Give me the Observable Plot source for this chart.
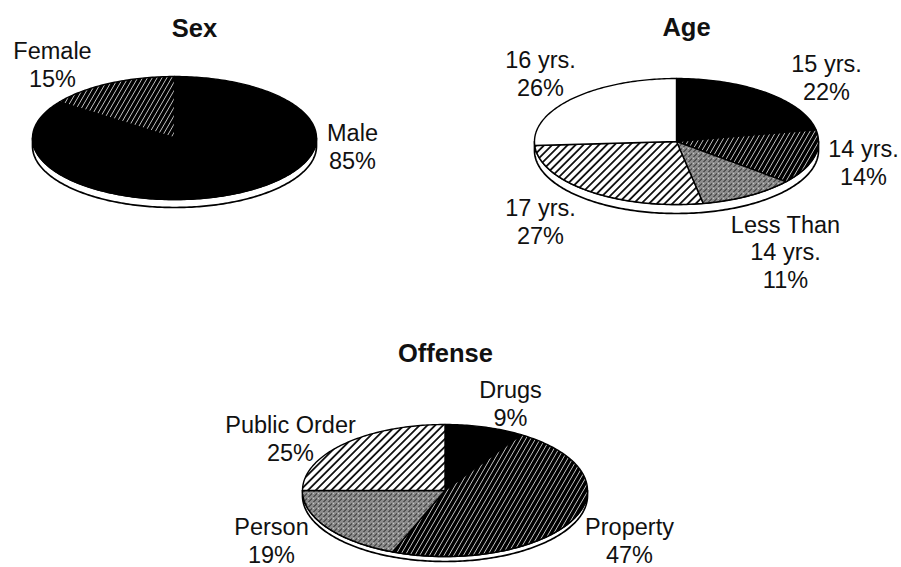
<!DOCTYPE html>
<html>
<head>
<meta charset="utf-8">
<script src="https://cdn.jsdelivr.net/npm/d3@7"></script>
<script src="https://cdn.jsdelivr.net/npm/@observablehq/plot@0.6"></script>
<style>
  body { margin: 0; background: #fff; }
  svg { display: block; }
</style>
</head>
<body>
<div id="chart"></div>
<script>
// ---- data ----
const sexLabels = ["Male", "Female"];
const sexValues = [85, 15];
const ageLabels = ["15 yrs.", "14 yrs.", "Less Than\n14 yrs.", "17 yrs.", "16 yrs."];
const ageValues = [22, 14, 11, 27, 26];
const offenseLabels = ["Drugs", "Property", "Person", "Public Order"];
const offenseValues = [9, 47, 19, 25];
const chartTitles = ["Sex", "Age", "Offense"];

// ---- layout (pixel units of the page) ----
const layout = [
  {title: chartTitles[0], labels: sexLabels, values: sexValues, cx: 174, cy: 137.5, rx: 142, ry: 61.5, depth: 8, tx: 194, ty: 36},
  {title: chartTitles[1], labels: ageLabels, values: ageValues, cx: 676, cy: 141, rx: 142, ry: 63, depth: 9, tx: 686, ty: 35},
  {title: chartTitles[2], labels: offenseLabels, values: offenseValues, cx: 444.5, cy: 490, rx: 142.5, ry: 66, depth: 5, tx: 445, ty: 361}
];
const labelPos = {
  "Male": [352, 168], "Female": [52, 86],
  "15 yrs.": [826, 99], "14 yrs.": [863, 184], "Less Than\n14 yrs.": [785, 287],
  "17 yrs.": [540, 243], "16 yrs.": [540, 95],
  "Drugs": [510, 425], "Property": [629, 562], "Person": [271, 562], "Public Order": [290, 460]
};
const sliceFill = {
  "Male": "#000", "Female": "url(#dense)",
  "15 yrs.": "#000", "14 yrs.": "url(#dense)", "Less Than\n14 yrs.": "url(#stipple)",
  "17 yrs.": "url(#hatch)", "16 yrs.": "#fff",
  "Drugs": "#000", "Property": "url(#dense)", "Person": "url(#stipple)", "Public Order": "url(#hatch)"
};

// ---- geometry from data ----
const slicePts = [];
const sidePts = [];
const labelRows = [];
const titleRows = [];
const pie = d3.pie().sort(null).value(d => d);

layout.forEach((p, pi) => {
  const ex = a => p.cx + p.rx * Math.sin(a);
  const ey = (a, off = 0) => p.cy + off - p.ry * Math.cos(a);
  // side (thickness) polygon
  const n = 180;
  const start = sidePts.length;
  for (let i = 0; i <= n; i++) {
    const a = Math.PI / 2 + (Math.PI * i) / n;
    sidePts.push({id: "side" + pi, x: ex(a), y: ey(a, p.depth)});
  }
  for (let i = n; i >= 0; i--) {
    const a = Math.PI / 2 + (Math.PI * i) / n;
    sidePts.push({id: "side" + pi, x: ex(a), y: ey(a)});
  }
  sidePts.push({...sidePts[start]});
  // slices
  pie(p.values).forEach((s, si) => {
    const id = pi + "-" + si;
    const fill = sliceFill[p.labels[si]];
    slicePts.push({id, fill, x: p.cx, y: p.cy});
    const steps = Math.max(2, Math.ceil((s.endAngle - s.startAngle) / (Math.PI / 180)));
    for (let k = 0; k <= steps; k++) {
      const a = s.startAngle + (s.endAngle - s.startAngle) * k / steps;
      slicePts.push({id, fill, x: ex(a), y: ey(a)});
    }
    slicePts.push({id, fill, x: p.cx, y: p.cy});
    const [lx, ly] = labelPos[p.labels[si]];
    labelRows.push({x: lx, y: ly, text: p.labels[si] + "\n" + p.values[si] + "%"});
  });
  titleRows.push({x: p.tx, y: p.ty, text: p.title});
});

const font = "'Liberation Sans', Arial, Helvetica, sans-serif";

const plot = Plot.plot({
  width: 901,
  height: 567,
  margin: 0,
  x: {domain: [0, 901], range: [0, 901], axis: null},
  y: {domain: [0, 567], range: [0, 567], axis: null},
  color: {type: "identity"},
  style: {background: "#fff", fontFamily: font},
  marks: [
    Plot.line(sidePts, {x: "x", y: "y", z: "id", fill: "#fff", stroke: "#000", strokeWidth: 1.7, strokeLinejoin: "round"}),
    Plot.line(slicePts, {x: "x", y: "y", z: "id", fill: "fill", stroke: "#000", strokeWidth: 1.4, strokeLinejoin: "round"}),
    Plot.text(labelRows, {x: "x", y: "y", text: "text", fontSize: 23.5, lineHeight: 1.15, lineAnchor: "bottom", textAnchor: "middle", fill: "#111", fontFamily: font}),
    Plot.text(titleRows, {x: "x", y: "y", text: "text", fontSize: 25.5, fontWeight: "bold", lineAnchor: "bottom", textAnchor: "middle", fill: "#111", fontFamily: font})
  ]
});

// patterns (styles)
const stippleRows = ["10100", "01001", "10110", "00101", "01010"];
let stippleRects = "";
stippleRows.forEach((row, r) => row.split("").forEach((c, col) => {
  if (c === "1") stippleRects += `<rect x="${col}" y="${r}" width="1" height="1" fill="#fff"/>`;
}));
d3.select(plot).insert("defs", ":first-child").html(`
  <pattern id="dense" width="4.2" height="4.2" patternUnits="userSpaceOnUse" patternTransform="rotate(30)">
    <rect width="4.2" height="4.2" fill="#000"/>
    <line x1="2.1" y1="0" x2="2.1" y2="4.2" stroke="#fff" stroke-width="0.65"/>
  </pattern>
  <pattern id="hatch" width="5.5" height="5.5" patternUnits="userSpaceOnUse" patternTransform="rotate(45)">
    <rect width="5.5" height="5.5" fill="#fff"/>
    <line x1="2.75" y1="0" x2="2.75" y2="5.5" stroke="#000" stroke-width="1.7"/>
  </pattern>
  <pattern id="stipple" width="5" height="5" patternUnits="userSpaceOnUse" shape-rendering="crispEdges">
    <rect width="5" height="5" fill="#1a1a1a"/>
    ${stippleRects}
  </pattern>
`);

document.getElementById("chart").appendChild(plot);
</script>
</body>
</html>
